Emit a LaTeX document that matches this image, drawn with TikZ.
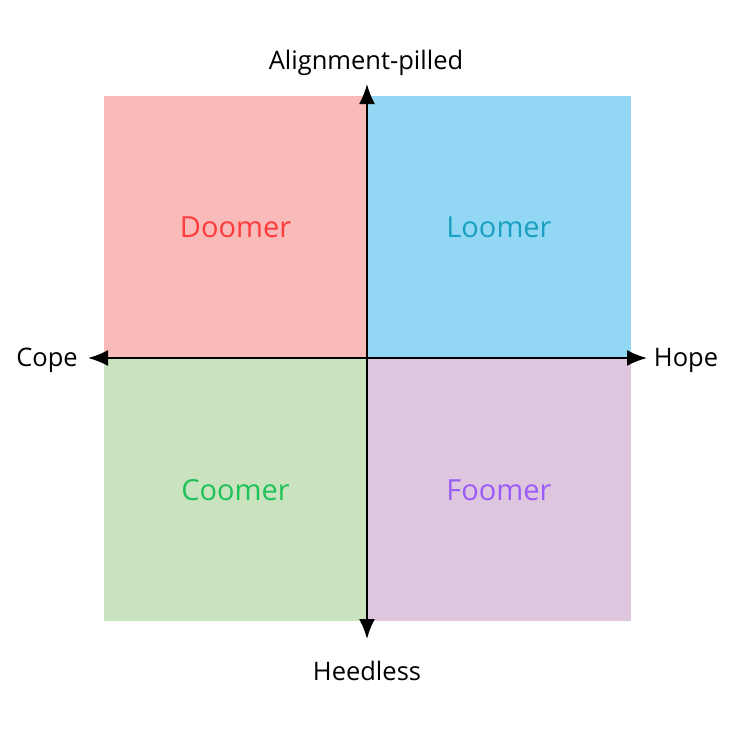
\documentclass[tikz,border=0pt]{standalone}
\usepackage{fontspec}
\setmainfont{Open Sans}
\usetikzlibrary{arrows.meta,shapes}
\definecolor{doomerbg}{HTML}{F8BBBA}
\definecolor{loomerbg}{HTML}{92D8F5}
\definecolor{coomerbg}{HTML}{C8E3BD}
\definecolor{foomerbg}{HTML}{DFC6DF}
\definecolor{doomerfg}{HTML}{FF3B3B}
\definecolor{loomerfg}{HTML}{1AA0C0}
\definecolor{coomerfg}{HTML}{1FC15A}
\definecolor{foomerfg}{HTML}{9B5CF6}
\tikzstyle{quadrant}=[rectangle,minimum width=263pt,minimum height=262pt,inner sep=0pt,font=\fontsize{29}{34}\selectfont]
\tikzstyle{axislabel}=[font=\fontsize{25.5}{30}\selectfont]
\tikzstyle{axis} = [draw,line width=2pt,{Latex[length=20pt,width=16pt]}-{Latex[length=20pt,width=16pt]}]

\begin{document}
\begin{tikzpicture}[x=1pt,y=-1pt]
    \useasboundingbox (0,0) rectangle (735,729);
    % First we draw the four quadrants
    \foreach \pos/\name/\text in {{(235.5,227)/doomer/Doomer}, {(499,227)/loomer/Loomer}, {(235.5,490)/coomer/Coomer}, {(499,490)/foomer/Foomer}}
        \node[quadrant,fill=\name bg,text=\name fg] (\name) at \pos {\text};
    % Axis labels
    \node[axislabel] (cope) at (47,360) {Cope};
    \node[axislabel] (hope) at (686,360) {Hope};
    \node[axislabel] (pilled) at (366,63) {Alignment-pilled};
    \node[axislabel] (heedless) at (367,671) {Heedless};
    % Arrow ends
    \coordinate (west) at (88,358);
    \coordinate (east) at (647,358);
    \coordinate (north) at (367,84);
    \coordinate (south) at (367,639);
    \path[axis] (west) -- (east);
    \path[axis] (south) -- (north);
\end{tikzpicture}
\end{document}
